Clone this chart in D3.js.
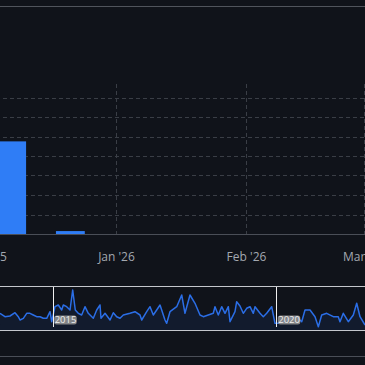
<!DOCTYPE html>
<html><head><meta charset="utf-8">
<script src="https://cdn.jsdelivr.net/npm/d3@7"></script>
<style>html,body{margin:0;padding:0;background:#10131a;}svg{display:block;}</style>
</head><body>
<script>
// ---- data ----
const weekDates = ["2025-11-30","2025-12-07","2025-12-14","2025-12-21","2025-12-28","2026-01-04","2026-01-11","2026-01-18","2026-01-25","2026-02-01","2026-02-08","2026-02-15","2026-02-22","2026-03-01"];
const weekValues = [0,95,0,3,0,0,0,0,0,0,0,0,0,0];
const yTicks = [0,20,40,60,80,100,120,140];
const xTickDates = ["2025-12-01","2026-01-01","2026-02-01","2026-03-01"];
const xTickLabels = ["Dec '25","Jan '26","Feb '26","Mar '26"];
const navYears = [2013.822,2013.933,2014.045,2014.157,2014.231,2014.269,2014.343,2014.419,2014.492,2014.566,2014.642,2014.716,2014.790,2014.866,2014.940,2014.978,2015.051,2015.125,2015.201,2015.237,2015.313,2015.387,2015.447,2015.505,2015.572,2015.648,2015.722,2015.796,2015.908,2015.984,2016.058,2016.080,2016.170,2016.282,2016.355,2016.431,2016.505,2016.579,2016.729,2016.840,2016.952,2016.990,2017.102,2017.176,2017.250,2017.400,2017.511,2017.549,2017.623,2017.773,2017.885,2017.958,2018.070,2018.182,2018.294,2018.368,2018.479,2018.591,2018.629,2018.703,2018.779,2018.853,2018.927,2018.965,2019.076,2019.114,2019.188,2019.262,2019.338,2019.412,2019.486,2019.524,2019.636,2019.709,2019.785,2019.897,2019.971,2020.045,2020.157,2020.306,2020.456,2020.568,2020.642,2020.754,2020.866,2020.940,2021.015,2021.127,2021.275,2021.386,2021.424,2021.498,2021.610,2021.722,2021.798,2021.872,2021.984];
const navValues = [14.7,11.3,12,15.3,11.3,8,9.7,14.7,14.7,13,11.3,11.3,9.7,9.7,16.3,6.3,21.3,23,18,23,21.3,18,38,18,14.7,13,21.3,14.7,9.7,18,23,9.7,14.7,8,15.3,11.3,9.7,13,14.7,16.3,13,8,16.3,21.3,13,23,8,4.7,16.3,21.3,33,14.7,33,24.7,13,11.3,13,14.7,21.3,13,21.3,14.7,21.3,6.3,16.3,26.3,22,14.7,19.7,21.3,14.7,21.3,14.7,11.3,14.7,21.3,4.7,4.7,6.3,9.7,11.3,6.3,18,18,11.3,1.3,13,14.7,11.3,11.3,6.3,14.7,6.3,13,24.7,11.3,3];
const navMarkYears = [2015,2020];
const navMarkLabels = ["2015","2020"];

// ---- layout ----
const W = 365, H = 365;
const plotTop = 84, plotBottom = 234;
const navTop = 286, navBottom = 330;
const parse = d3.timeParse("%Y-%m-%d");
const font = "'Open Sans', 'Noto Sans', sans-serif";

const svg = d3.select("body").append("svg").attr("width", W).attr("height", H);
svg.append("rect").attr("width", W).attr("height", H).attr("fill", "#10131a");

// top border line
svg.append("line").attr("x1",0).attr("x2",W).attr("y1",6.5).attr("y2",6.5).attr("stroke","#50545c").attr("stroke-width",1);

const x = d3.scaleTime().domain([parse("2025-12-01"), parse("2026-03-01")]).range([-13.5, 363.9]);
const y = d3.scaleLinear().domain([0, 140]).range([plotBottom, 97.5]);

// horizontal grid
svg.append("g").selectAll("line").data(yTicks.filter(t => t > 0)).join("line")
  .attr("x1", 0).attr("x2", W)
  .attr("y1", d => Math.round(y(d)) + 0.5).attr("y2", d => Math.round(y(d)) + 0.5)
  .attr("stroke", "#3a3e46").attr("stroke-dasharray", "4,3").attr("stroke-dashoffset", -3);

// vertical grid
svg.append("g").selectAll("line").data(xTickDates.map(parse)).join("line")
  .attr("x1", d => Math.round(x(d)) + 0.5).attr("x2", d => Math.round(x(d)) + 0.5)
  .attr("y1", plotTop).attr("y2", plotBottom)
  .attr("stroke", "#3a3e46").attr("stroke-dasharray", "4,3");

// bars
const weekMs = 7 * 864e5;
const bw = x(new Date(+parse("2026-01-01") + weekMs)) - x(parse("2026-01-01")) - 0.5;
svg.append("g").selectAll("rect").data(weekDates.map((d, i) => ({d: parse(d), v: weekValues[i]})).filter(o => o.v > 0)).join("rect")
  .attr("x", o => x(o.d) - bw / 2).attr("width", bw)
  .attr("y", o => y(o.v)).attr("height", o => y(0) - y(o.v))
  .attr("fill", "#2f7df6");

// x axis line
svg.append("line").attr("x1",0).attr("x2",W).attr("y1",plotBottom+0.5).attr("y2",plotBottom+0.5).attr("stroke","#4a4e57");

// x labels
svg.append("g").selectAll("text").data(xTickDates).join("text")
  .attr("x", d => x(parse(d))).attr("y", 261)
  .attr("text-anchor", "middle").attr("font-family", font).attr("font-size", 12)
  .attr("fill", "#a3a8b0").text((d, i) => xTickLabels[i]);

// ---- navigator ----
const xn = d3.scaleLinear().domain([2015, 2020]).range([52.7, 276.3]);
const yn = d3.scaleLinear().domain([0, 40]).range([328, 288]);
const navData = navYears.map((t, i) => ({t, v: navValues[i]}));
svg.append("path").datum(navData)
  .attr("d", d3.area().x(o => xn(o.t)).y0(navBottom).y1(o => yn(o.v)))
  .attr("fill", "#121b2d");
svg.append("path").datum(navData)
  .attr("d", d3.line().x(o => xn(o.t)).y(o => yn(o.v)))
  .attr("fill", "none").attr("stroke", "#2b6ee6").attr("stroke-width", 1.5).attr("stroke-linejoin","round");

// navigator markers
const mk = svg.append("g").selectAll("g").data(navMarkYears).join("g");
mk.append("line").attr("x1", d => Math.round(xn(d)) + 0.5).attr("x2", d => Math.round(xn(d)) + 0.5)
  .attr("y1", navTop).attr("y2", 327).attr("stroke", "#f0f0f0").attr("stroke-width", 1);
mk.append("rect").attr("x", d => xn(d) + 1.5).attr("y", 315.5).attr("width", 22.5).attr("height", 9).attr("rx", 2.5)
  .attr("fill", "rgba(150,150,150,0.85)");
mk.append("text").attr("x", d => xn(d) + 12.8).attr("y", 323.4).attr("text-anchor", "middle")
  .attr("font-family", font).attr("font-size", 9.5).attr("fill", "#eeeeee").text((d, i) => navMarkLabels[i]);

// navigator outline
svg.append("line").attr("x1",0).attr("x2",W).attr("y1",navTop+0.5).attr("y2",navTop+0.5).attr("stroke","#c4c7cc");
svg.append("line").attr("x1",0).attr("x2",W).attr("y1",navBottom+0.5).attr("y2",navBottom+0.5).attr("stroke","#c4c7cc");
// scrollbar track line
svg.append("line").attr("x1",0).attr("x2",W).attr("y1",356.5).attr("y2",356.5).attr("stroke","#4a4e57");
</script>
</body></html>
